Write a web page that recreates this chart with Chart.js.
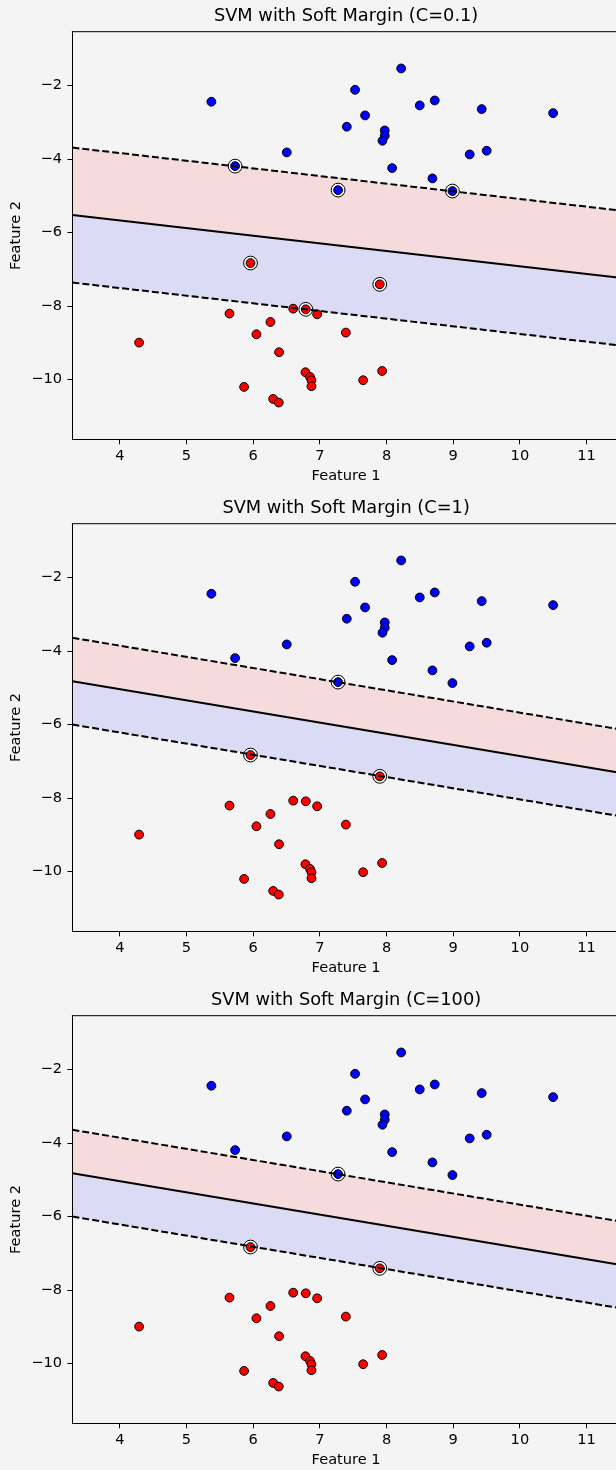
<!DOCTYPE html>
<html><head><meta charset="utf-8">
<script src="https://cdn.jsdelivr.net/npm/chart.js@4/dist/chart.umd.min.js"></script>
<style>
html,body{margin:0;padding:0;background:#f4f4f4;overflow:hidden;width:616px;height:1470px;position:relative}
.panel{position:absolute;left:0;width:640px;height:486px}
canvas{display:block}
</style></head><body>
<div class="panel" style="top:0px"><canvas id="c0" width="640" height="486"></canvas></div>
<div class="panel" style="top:492px"><canvas id="c1" width="640" height="486"></canvas></div>
<div class="panel" style="top:984px"><canvas id="c2" width="640" height="486"></canvas></div>
<script>
// ---- data ----
const blueX = [5.373, 5.729, 6.504, 7.273, 7.404, 8.219, 7.528, 7.678, 7.973, 7.973, 7.939, 8.498, 8.723, 9.427, 10.498, 9.247, 9.502, 8.084, 8.688, 8.988];
const blueY = [-2.443, -4.193, -3.821, -4.845, -3.122, -1.538, -2.117, -2.815, -3.223, -3.367, -3.503, -2.543, -2.408, -2.643, -2.752, -3.875, -3.775, -4.247, -4.527, -4.871];
const redX = [5.960, 4.289, 5.645, 6.049, 6.259, 6.600, 6.789, 6.959, 6.388, 6.784, 6.853, 6.874, 6.874, 5.864, 6.300, 6.384, 7.390, 7.898, 7.934, 7.649];
const redY = [-6.829, -8.992, -8.204, -8.766, -8.432, -8.069, -8.087, -8.223, -9.255, -9.799, -9.926, -10.016, -10.179, -10.198, -10.524, -10.622, -8.720, -7.408, -9.764, -10.016];

const cLabels = ['0.1', '1', '100'];

const svX_C01 = [5.729, 7.273, 8.988, 5.960, 7.898, 6.789];
const svY_C01 = [-4.193, -4.845, -4.871, -6.829, -7.408, -8.087];
const svX_C1 = [7.273, 5.960, 7.898];
const svY_C1 = [-4.845, -6.829, -7.408];
const svX_C100 = [7.273, 5.960, 7.898];
const svY_C100 = [-4.845, -6.829, -7.408];

// decision-function lines, sampled at the two x-limits
const lineX = [3.289, 11.498];
const upperMargin_C01 = [-3.69, -5.40];
const boundary_C01 = [-5.52, -7.23];
const lowerMargin_C01 = [-7.36, -9.07];
const upperMargin_C1 = [-3.64, -6.13];
const boundary_C1 = [-4.82, -7.31];
const lowerMargin_C1 = [-6.00, -8.49];
const upperMargin_C100 = [-3.64, -6.13];
const boundary_C100 = [-4.82, -7.31];
const lowerMargin_C100 = [-6.00, -8.49];

const xTicks = [4, 5, 6, 7, 8, 9, 10, 11];
const yTicks = [-2, -4, -6, -8, -10];

// ---- chart ----
const FONT = 'DejaVu Sans';
const allX = blueX.concat(redX), allY = blueY.concat(redY);
const xMin = Math.min(...allX) - 1, xMax = Math.max(...allX) + 1;
const yMin = Math.min(...allY) - 1, yMax = Math.max(...allY) + 1;

const pts = (xs, ys) => xs.map((x, i) => ({x: x, y: ys[i]}));
const fmt = v => (v < 0 ? '\u2212' + Math.abs(v) : String(v));

const topSpine = {
  id: 'topSpine',
  afterDraw(chart) {
    const {ctx, chartArea: a} = chart;
    ctx.save();
    ctx.strokeStyle = '#000';
    ctx.lineWidth = 1;
    ctx.beginPath();
    ctx.moveTo(a.left - 0.5, a.top);
    ctx.lineTo(a.right, a.top);
    ctx.stroke();
    ctx.restore();
  }
};
const axesTitle = {
  id: 'axesTitle',
  afterDraw(chart, args, opts) {
    const {ctx, chartArea: a} = chart;
    ctx.save();
    ctx.fillStyle = '#000';
    ctx.font = '17.8px "' + FONT + '"';
    ctx.textAlign = 'center';
    ctx.textBaseline = 'middle';
    ctx.fillText(opts.text, (a.left + a.right) / 2, a.top - 15);
    ctx.restore();
  }
};
const bgPlugin = {
  id: 'bg',
  beforeDraw(chart) {
    const {ctx} = chart;
    ctx.save();
    ctx.fillStyle = '#f4f4f4';
    ctx.fillRect(0, 0, chart.width, chart.height);
    ctx.restore();
  }
};

function makeChart(id, c, svX, svY, up, bd, lo) {
  const lineDs = (ys, dash, fill, bg) => ({
    type: 'line', data: pts(lineX, ys), showLine: true,
    borderColor: '#000', borderWidth: 2, borderDash: dash,
    pointRadius: 0, fill: fill, backgroundColor: bg, order: 0, tension: 0
  });
  new Chart(document.getElementById(id), {
    type: 'scatter',
    data: {
      datasets: [
        lineDs(up, [7, 3], {target: '+1'}, 'rgba(255,0,0,0.1)'),
        lineDs(bd, [], {target: '+1'}, 'rgba(0,0,255,0.1)'),
        lineDs(lo, [7, 3], false, 'transparent'),
        {type: 'scatter', data: pts(blueX, blueY), backgroundColor: '#0000ff', borderColor: '#000', borderWidth: 1, pointRadius: 4.4, order: 1},
        {type: 'scatter', data: pts(redX, redY), backgroundColor: '#ff0000', borderColor: '#000', borderWidth: 1, pointRadius: 4.4, order: 1},
        {type: 'scatter', data: pts(svX, svY), backgroundColor: '#ffffff', borderColor: '#000', borderWidth: 1, pointRadius: 6.9, order: 2}
      ]
    },
    options: {
      responsive: false, animation: false, devicePixelRatio: 1,
      layout: {padding: {left: 0, right: 20.2, top: 31.7, bottom: 0}},
      plugins: {
        legend: {display: false}, tooltip: {enabled: false},
        filler: {drawTime: 'beforeDatasetsDraw'},
        title: {display: false},
        axesTitle: {text: 'SVM with Soft Margin (C=' + c + ')'}
      },
      scales: {
        x: {
          type: 'linear', min: xMin, max: xMax,
          afterBuildTicks: s => { s.ticks = xTicks.map(v => ({value: v})); },
          afterFit: s => { s.height = 46.7; },
          ticks: {color: '#000', font: {family: FONT, size: 14.6}, padding: 3, callback: fmt, maxRotation: 0, autoSkip: false},
          grid: {drawOnChartArea: false, drawTicks: true, tickLength: 5, color: '#000', lineWidth: 1},
          border: {display: true, color: '#000', width: 1},
          title: {display: true, text: 'Feature 1', color: '#000', font: {family: FONT, size: 14.6}, padding: {top: 0, bottom: 1.2}}
        },
        y: {
          type: 'linear', min: yMin, max: yMax,
          afterBuildTicks: s => { s.ticks = yTicks.map(v => ({value: v})); },
          afterFit: s => { s.width = 72.4; },
          ticks: {color: '#000', font: {family: FONT, size: 14.6}, padding: 5.4, callback: fmt, autoSkip: false},
          grid: {drawOnChartArea: false, drawTicks: true, tickLength: 5, color: '#000', lineWidth: 1},
          border: {display: true, color: '#000', width: 1},
          title: {display: true, text: 'Feature 2', color: '#000', font: {family: FONT, size: 14.6}, padding: {top: 7.2, bottom: 0}}
        }
      }
    },
    plugins: [bgPlugin, topSpine, axesTitle]
  });
}

makeChart('c0', cLabels[0], svX_C01, svY_C01, upperMargin_C01, boundary_C01, lowerMargin_C01);
makeChart('c1', cLabels[1], svX_C1, svY_C1, upperMargin_C1, boundary_C1, lowerMargin_C1);
makeChart('c2', cLabels[2], svX_C100, svY_C100, upperMargin_C100, boundary_C100, lowerMargin_C100);
</script>
</body></html>
